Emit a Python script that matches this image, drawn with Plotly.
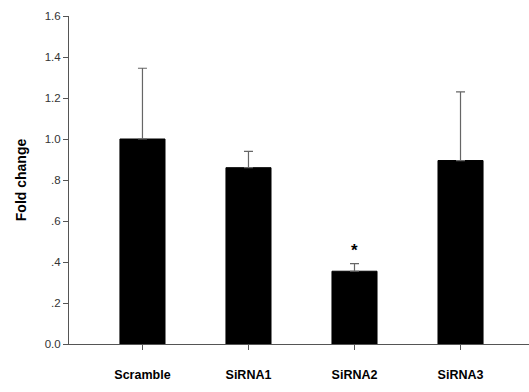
import plotly.graph_objects as go

categories = ["Scramble", "SiRNA1", "SiRNA2", "SiRNA3"]
fold_change = [1.0, 0.86, 0.355, 0.895]
error_plus = [0.345, 0.08, 0.037, 0.335]
y_tick_vals = [0.0, 0.2, 0.4, 0.6, 0.8, 1.0, 1.2, 1.4, 1.6]
y_tick_text = ["0.0", ".2", ".4", ".6", ".8", "1.0", "1.2", "1.4", "1.6"]
significant = ["", "", "*", ""]

fig = go.Figure()
fig.add_trace(go.Bar(
    x=list(range(len(categories))), y=fold_change, width=0.425,
    marker=dict(color="black", line=dict(color="black", width=1)),
    error_y=dict(type="data", array=error_plus, arrayminus=[0]*4, symmetric=False,
                 color="#666666", thickness=1.2, width=4.5),
))
for i, s in enumerate(significant):
    if s:
        fig.add_annotation(x=i, y=fold_change[i] + error_plus[i] + 0.065, text="<b>" + s + "</b>",
                           showarrow=False, font=dict(size=17, color="black", family="Arial, Liberation Sans"))

fig.update_layout(
    width=529, height=392, plot_bgcolor="white", paper_bgcolor="white",
    margin=dict(l=69, r=0, t=16, b=48, autoexpand=False), showlegend=False,
    font=dict(family="Arial, Liberation Sans", color="#222222"),
)
fig.update_xaxes(range=[-0.693, 3.646], tickvals=list(range(4)), ticktext=categories,
                 showline=True, linecolor="#555555", linewidth=1, ticks="outside",
                 ticklen=5, tickcolor="#555555", showgrid=False, zeroline=False,
                 automargin=False,
                 tickfont=dict(size=12.5, family="Arial, Liberation Sans", color="black", weight="bold"),
                 ticklabelstandoff=14)
fig.update_yaxes(range=[0, 1.6], tickvals=y_tick_vals, ticktext=y_tick_text,
                 showline=True, linecolor="#555555", linewidth=1, ticks="outside",
                 ticklen=5, tickcolor="#555555", showgrid=False, zeroline=False,
                 automargin=False,
                 tickfont=dict(size=11.5, color="#333333"),
                 title=dict(text="<b>Fold change</b>", font=dict(size=14, color="black"), standoff=14))
fig.write_html("out.html", config={"displayModeBar": False, "staticPlot": True})

with open("out.html", "r", encoding="utf-8") as f:
    html = f.read()
html = html.replace("<body>", '<body style="margin:0;padding:0;overflow:hidden">', 1)
with open("out.html", "w", encoding="utf-8") as f:
    f.write(html)
